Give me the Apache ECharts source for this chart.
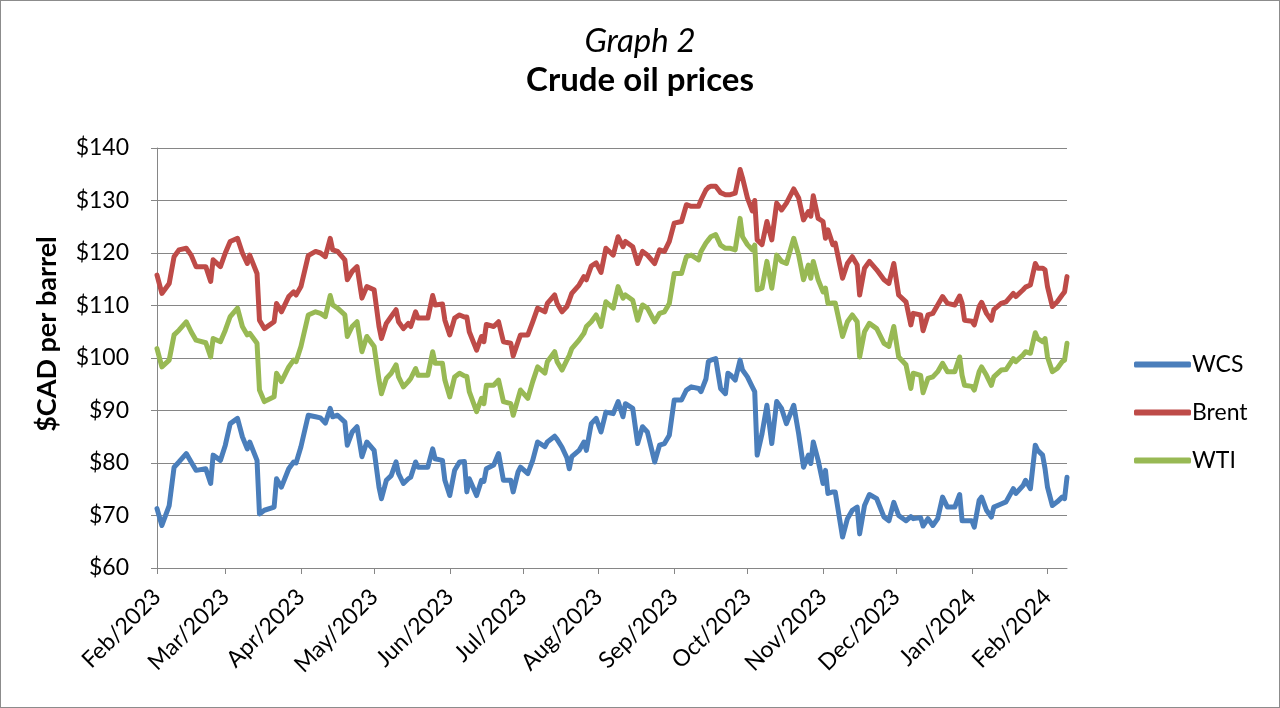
<!DOCTYPE html>
<html>
<head>
<meta charset="utf-8">
<script src="https://cdn.jsdelivr.net/npm/echarts@6/dist/echarts.min.js"></script>
<style>
  html, body { margin: 0; padding: 0; background: #fff; }
  #frame { width: 1280px; height: 708px; box-sizing: border-box; border: 1px solid #8c8c8c; }
  #chart { width: 1278px; height: 706px; }
</style>
</head>
<body>
<div id="frame"><div id="chart"></div></div>
<script>
// Dates sampled along the curves (daily axis, labels at month starts)
const dates = [
  '2023-02-01','2023-02-03','2023-02-06','2023-02-08','2023-02-10','2023-02-13','2023-02-15','2023-02-17','2023-02-21','2023-02-23',
  '2023-02-24','2023-02-27','2023-03-01','2023-03-03','2023-03-06','2023-03-08','2023-03-10','2023-03-11','2023-03-14','2023-03-15',
  '2023-03-17','2023-03-21','2023-03-22','2023-03-24','2023-03-27','2023-03-29','2023-03-30','2023-04-01','2023-04-04','2023-04-07',
  '2023-04-09','2023-04-11','2023-04-13','2023-04-14','2023-04-16','2023-04-19','2023-04-20','2023-04-22','2023-04-24','2023-04-26',
  '2023-04-28','2023-05-01','2023-05-03','2023-05-04','2023-05-06','2023-05-08','2023-05-10','2023-05-11','2023-05-13','2023-05-15',
  '2023-05-16','2023-05-18','2023-05-19','2023-05-23','2023-05-25','2023-05-26','2023-05-29','2023-05-30','2023-06-01','2023-06-03',
  '2023-06-05','2023-06-07','2023-06-08','2023-06-09','2023-06-12','2023-06-14','2023-06-15','2023-06-16','2023-06-19','2023-06-21',
  '2023-06-23','2023-06-26','2023-06-27','2023-06-29','2023-06-30','2023-07-03','2023-07-05','2023-07-07','2023-07-10','2023-07-11',
  '2023-07-14','2023-07-15','2023-07-17','2023-07-19','2023-07-20','2023-07-21','2023-07-24','2023-07-26','2023-07-27','2023-07-29',
  '2023-07-31','2023-08-02','2023-08-04','2023-08-07','2023-08-09','2023-08-11','2023-08-12','2023-08-15','2023-08-17','2023-08-19',
  '2023-08-21','2023-08-24','2023-08-26','2023-08-28','2023-08-30','2023-09-01','2023-09-04','2023-09-06','2023-09-08','2023-09-11',
  '2023-09-12','2023-09-14','2023-09-15','2023-09-16','2023-09-18','2023-09-20','2023-09-22','2023-09-23','2023-09-24','2023-09-26',
  '2023-09-28','2023-09-29','2023-10-01','2023-10-03','2023-10-04','2023-10-05','2023-10-07','2023-10-09','2023-10-11','2023-10-13',
  '2023-10-15','2023-10-17','2023-10-20','2023-10-22','2023-10-24','2023-10-26','2023-10-27','2023-10-28','2023-10-30','2023-11-01',
  '2023-11-02','2023-11-03','2023-11-05','2023-11-06','2023-11-09','2023-11-11','2023-11-13','2023-11-15','2023-11-16','2023-11-18',
  '2023-11-20','2023-11-23','2023-11-26','2023-11-28','2023-11-30','2023-12-02','2023-12-05','2023-12-07','2023-12-08','2023-12-11',
  '2023-12-12','2023-12-14','2023-12-16','2023-12-18','2023-12-20','2023-12-22','2023-12-25','2023-12-27','2023-12-28','2023-12-29',
  '2024-01-01','2024-01-02','2024-01-04','2024-01-05','2024-01-07','2024-01-09','2024-01-10','2024-01-13','2024-01-15','2024-01-18',
  '2024-01-19','2024-01-22','2024-01-23','2024-01-25','2024-01-27','2024-01-28','2024-01-30','2024-01-31','2024-02-01','2024-02-03',
  '2024-02-05','2024-02-07','2024-02-08','2024-02-09'
];

const wcs = [
  71.3, 68.1, 71.9, 79.2, 80.2, 81.8, 80.2, 78.6, 78.9, 76.1,
  81.5, 80.5, 83.4, 87.5, 88.5, 85.0, 82.7, 84.0, 80.5, 70.3,
  71.0, 71.6, 77.0, 75.4, 78.9, 80.2, 80.0, 83.1, 89.1, 88.8,
  88.6, 87.6, 90.4, 88.8, 89.1, 87.8, 83.4, 85.9, 86.9, 81.2,
  84.0, 82.4, 75.4, 73.2, 76.7, 77.6, 80.2, 78.0, 76.1, 77.0,
  77.3, 80.2, 79.2, 79.2, 82.7, 80.8, 80.5, 76.7, 73.8, 78.6,
  80.2, 80.3, 74.5, 77.0, 73.8, 76.7, 76.5, 78.9, 79.6, 81.8,
  76.7, 76.7, 74.5, 78.3, 79.2, 78.0, 80.5, 84.0, 83.1, 84.0,
  85.1, 84.5, 83.0, 81.0, 78.9, 81.2, 82.4, 84.0, 82.4, 87.5,
  88.5, 85.9, 89.7, 89.4, 91.7, 88.8, 91.3, 90.4, 83.7, 86.9,
  85.9, 80.2, 83.4, 83.7, 85.3, 92.0, 92.0, 93.9, 94.5, 94.2,
  93.6, 96.0, 99.3, 99.6, 99.9, 94.2, 93.2, 97.1, 96.8, 95.8,
  99.6, 97.7, 96.4, 94.5, 93.6, 81.5, 85.6, 91.0, 83.7, 91.7,
  90.4, 87.5, 91.0, 85.6, 79.2, 81.5, 79.9, 84.0, 80.5, 76.1,
  78.6, 74.2, 74.5, 74.5, 65.9, 69.4, 71.0, 71.6, 66.5, 71.9,
  74.0, 73.2, 69.7, 69.0, 72.5, 70.0, 69.0, 69.8, 69.4, 69.6,
  68.0, 69.4, 68.1, 69.4, 73.5, 71.6, 71.6, 74.0, 69.0, 69.0,
  69.0, 67.8, 72.9, 73.5, 71.0, 69.7, 71.6, 72.2, 72.6, 75.1,
  74.2, 75.7, 76.7, 75.1, 83.4, 82.4, 81.5, 78.9, 75.4, 71.9,
  72.6, 73.5, 73.2, 77.3
];

const brent = [
  115.8, 112.3, 114.2, 119.3, 120.6, 120.9, 119.6, 117.4, 117.4, 114.6,
  118.7, 117.4, 120.0, 122.2, 122.8, 120.0, 118.0, 119.6, 116.1, 107.2,
  105.6, 106.9, 110.4, 108.8, 111.7, 112.6, 112.0, 113.6, 119.5, 120.3,
  120.0, 119.3, 122.8, 120.6, 120.3, 118.7, 114.9, 116.5, 117.4, 111.4,
  113.6, 113.0, 106.0, 103.7, 106.6, 107.9, 109.2, 106.9, 105.6, 106.6,
  106.0, 108.8, 107.6, 107.6, 111.9, 110.1, 110.3, 107.2, 104.4, 107.6,
  108.2, 107.8, 107.8, 105.0, 101.5, 104.1, 103.1, 106.4, 106.0, 106.9,
  103.1, 102.8, 100.4, 103.1, 104.4, 104.4, 106.9, 109.5, 108.8, 110.4,
  112.0, 110.4, 108.8, 109.8, 111.0, 112.3, 113.9, 115.5, 114.9, 117.5,
  118.1, 116.3, 120.9, 119.6, 123.1, 121.2, 122.2, 121.2, 118.0, 120.3,
  119.6, 118.0, 120.6, 120.3, 122.2, 125.7, 126.0, 129.2, 128.9, 128.9,
  130.1, 132.0, 132.5, 132.7, 132.7, 131.5, 131.1, 131.1, 131.1, 131.4,
  135.9, 134.3, 130.5, 128.0, 130.0, 122.5, 121.6, 126.0, 122.5, 129.5,
  128.2, 129.5, 132.2, 130.5, 126.3, 127.9, 127.0, 130.9, 126.6, 126.0,
  122.8, 124.4, 121.6, 121.9, 115.2, 118.0, 119.3, 117.7, 112.0, 117.1,
  118.4, 116.8, 114.9, 114.2, 118.0, 112.0, 110.7, 106.3, 108.5, 108.2,
  105.2, 108.2, 108.5, 110.1, 111.7, 110.4, 110.1, 111.8, 110.4, 107.2,
  107.0, 106.3, 109.8, 110.6, 108.5, 107.2, 109.2, 110.4, 110.7, 112.3,
  111.7, 113.0, 113.5, 113.9, 118.0, 117.1, 117.1, 116.8, 113.6, 109.8,
  110.7, 112.0, 112.6, 115.5
];

const wti = [
  101.8, 98.3, 99.6, 104.4, 105.3, 106.9, 105.0, 103.4, 102.9, 100.2,
  103.7, 103.1, 105.3, 107.9, 109.5, 106.0, 104.4, 104.7, 102.8, 93.9,
  91.7, 92.6, 97.1, 95.5, 98.3, 99.6, 99.3, 102.2, 108.2, 108.8,
  108.5, 107.9, 111.9, 110.1, 109.5, 108.2, 104.1, 106.0, 106.9, 101.2,
  104.1, 102.2, 95.8, 93.2, 96.1, 97.1, 98.7, 96.4, 94.5, 95.5,
  96.1, 98.0, 96.7, 96.7, 101.2, 99.0, 99.0, 95.8, 92.6, 96.4,
  97.1, 96.6, 96.5, 93.6, 89.8, 92.3, 91.3, 94.8, 94.8, 95.8,
  91.7, 91.3, 89.1, 92.3, 93.9, 92.3, 95.5, 98.3, 97.1, 99.3,
  101.2, 99.3, 97.7, 99.6, 100.5, 101.8, 103.4, 104.7, 106.0, 106.9,
  108.2, 106.0, 110.7, 109.5, 113.6, 111.4, 112.0, 111.0, 107.2, 110.1,
  109.5, 106.9, 108.5, 108.8, 110.4, 116.1, 116.1, 119.3, 119.6, 118.7,
  120.3, 121.9, 122.5, 123.1, 123.5, 121.5, 120.9, 120.9, 120.9, 120.6,
  126.6, 123.1, 121.6, 120.6, 121.5, 113.0, 113.3, 118.4, 113.3, 119.6,
  118.4, 118.0, 122.8, 119.6, 114.9, 117.7, 115.2, 118.4, 114.9, 112.6,
  113.3, 110.4, 110.5, 110.5, 104.1, 106.9, 108.2, 106.9, 100.2, 105.0,
  106.6, 105.6, 102.8, 102.2, 106.0, 100.2, 98.7, 94.2, 97.1, 96.7,
  93.4, 96.1, 96.4, 97.4, 99.0, 97.4, 97.4, 100.2, 96.7, 94.8,
  94.6, 93.9, 97.4, 98.3, 96.7, 94.8, 96.4, 97.7, 97.8, 99.9,
  99.3, 100.6, 101.2, 100.9, 104.8, 103.7, 103.1, 103.7, 100.2, 97.4,
  98.0, 99.3, 99.6, 102.8
];

const monthNames = ['Jan','Feb','Mar','Apr','May','Jun','Jul','Aug','Sep','Oct','Nov','Dec'];

// one category per calendar day so that spacing follows real time
const days = [];
for (let t = Date.parse(dates[0] + 'T00:00:00Z'); t <= Date.parse(dates[dates.length - 1] + 'T00:00:00Z'); t += 86400000) {
  days.push(new Date(t).toISOString().slice(0, 10));
}

function onDays(values) {
  const byDate = {};
  dates.forEach((d, i) => { byDate[d] = values[i]; });
  return days.map(d => (d in byDate ? byDate[d] : null));
}

const isMonthStart = (idx, val) => val.slice(8) === '01';
const FONT = 'Lato, "Open Sans", sans-serif';

const chart = echarts.init(document.getElementById('chart'));

chart.setOption({
  animation: false,
  title: {
    left: 'center',
    top: 16,
    text: '{a|Graph 2}\n{b|Crude oil prices}',
    textStyle: {
      rich: {
        a: { fontFamily: FONT, fontStyle: 'italic', fontWeight: 'normal', fontSize: 33, color: '#000', lineHeight: 39 },
        b: { fontFamily: FONT, fontWeight: 'bold', fontSize: 33, color: '#000', lineHeight: 39 }
      }
    }
  },
  legend: {
    orient: 'vertical',
    left: 1128,
    top: 347,
    itemWidth: 57,
    itemHeight: 6,
    itemGap: 25,
    icon: 'roundRect',
    textStyle: { fontFamily: FONT, fontSize: 23, color: '#000', padding: [0, 0, 0, -4] },
    data: ['WCS', 'Brent', 'WTI']
  },
  grid: { left: 156, right: 212, top: 147, bottom: 139 },
  xAxis: {
    type: 'category',
    boundaryGap: false,
    data: days,
    axisLine: { lineStyle: { color: '#868686', width: 1 } },
    axisTick: { interval: isMonthStart, length: 6, lineStyle: { color: '#868686' } },
    axisLabel: {
      interval: isMonthStart,
      rotate: 45,
      margin: 25,
      fontFamily: FONT,
      fontSize: 23,
      color: '#000',
      formatter: v => monthNames[+v.slice(5, 7) - 1] + '/' + v.slice(0, 4)
    },
    splitLine: { show: false }
  },
  yAxis: {
    type: 'value',
    min: 60,
    max: 140,
    interval: 10,
    axisLine: { show: true, lineStyle: { color: '#868686', width: 1 } },
    axisTick: { show: true, length: 6, lineStyle: { color: '#868686' } },
    axisLabel: { fontFamily: FONT, fontSize: 23, color: '#000', margin: 28, formatter: v => '$' + v },
    splitLine: { lineStyle: { color: '#868686', width: 1 } }
  },
  graphic: [{
    type: 'text',
    x: 46,
    y: 333,
    rotation: Math.PI / 2,
    style: {
      text: '$CAD per barrel',
      font: 'bold 27px ' + FONT,
      fill: '#000',
      align: 'center',
      verticalAlign: 'middle'
    }
  }],
  series: [
    { name: 'WCS', type: 'line', data: onDays(wcs), connectNulls: true, showSymbol: false,
      lineStyle: { width: 5, color: '#4a7ebb', join: 'round', cap: 'round' }, itemStyle: { color: '#4a7ebb' } },
    { name: 'Brent', type: 'line', data: onDays(brent), connectNulls: true, showSymbol: false,
      lineStyle: { width: 5, color: '#be4b48', join: 'round', cap: 'round' }, itemStyle: { color: '#be4b48' } },
    { name: 'WTI', type: 'line', data: onDays(wti), connectNulls: true, showSymbol: false,
      lineStyle: { width: 5, color: '#98b954', join: 'round', cap: 'round' }, itemStyle: { color: '#98b954' } }
  ]
});
</script>
</body>
</html>
